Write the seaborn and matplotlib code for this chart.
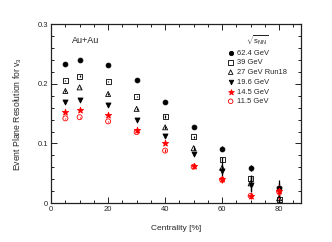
import matplotlib
matplotlib.use("Agg")
import matplotlib.pyplot as plt
import seaborn as sns
import pandas as pd
from matplotlib.ticker import MultipleLocator

# centrality bins [%]
centrality = [5, 10, 20, 30, 40, 50, 60, 70, 80]

# event plane resolution for v3 per energy
res_624 = [0.234, 0.240, 0.232, 0.207, 0.170, 0.128, 0.091, 0.059, 0.025]
res_39 = [0.206, 0.213, 0.204, 0.179, 0.145, 0.111, 0.073, 0.041, 0.006]
res_27 = [0.188, 0.194, 0.183, 0.158, 0.127, 0.092, 0.059, 0.033, 0.008]
res_196 = [0.170, 0.173, 0.164, 0.139, 0.113, 0.082, 0.053, 0.031, 0.024]
res_145 = [0.152, 0.156, 0.147, 0.123, 0.101, 0.062, 0.041, 0.012, 0.020]
res_115 = [0.142, 0.144, 0.137, 0.119, 0.088, 0.061, 0.039, 0.012, 0.019]

err_624 = [0.001, 0.001, 0.001, 0.001, 0.002, 0.002, 0.004, 0.005, 0.008]
err_39 = [0.001, 0.001, 0.001, 0.001, 0.002, 0.002, 0.004, 0.006, 0.009]
err_27 = [0.001, 0.001, 0.001, 0.002, 0.002, 0.003, 0.010, 0.012, 0.013]
err_196 = [0.001, 0.001, 0.001, 0.002, 0.002, 0.003, 0.011, 0.013, 0.015]
err_145 = [0.001, 0.001, 0.001, 0.002, 0.002, 0.003, 0.005, 0.004, 0.010]
err_115 = [0.001, 0.001, 0.001, 0.002, 0.002, 0.003, 0.006, 0.005, 0.012]

labels = ["62.4 GeV", "39 GeV", "27 GeV Run18", "19.6 GeV", "14.5 GeV", "11.5 GeV"]
values = [res_624, res_39, res_27, res_196, res_145, res_115]
errors = [err_624, err_39, err_27, err_196, err_145, err_115]

df = pd.concat(
    [pd.DataFrame({"cent": centrality, "res": v, "err": e, "energy": l})
     for l, v, e in zip(labels, values, errors)],
    ignore_index=True,
)

# marker, color, filled, size
styles = {
    "62.4 GeV": ("o", "black", True, 12),
    "39 GeV": ("s", "black", False, 13),
    "27 GeV Run18": ("^", "black", False, 13),
    "19.6 GeV": ("v", "black", True, 13),
    "14.5 GeV": ("*", "red", True, 22),
    "11.5 GeV": ("o", "red", False, 13),
}

sns.set_style("ticks")
plt.rcParams["font.family"] = ["Liberation Sans", "DejaVu Sans"]
plt.rcParams["mathtext.fontset"] = "custom"
plt.rcParams["mathtext.rm"] = "Liberation Sans"
plt.rcParams["mathtext.it"] = "Liberation Sans"

fig = plt.figure(figsize=(3.32, 2.42), dpi=100)
ax = fig.add_axes([0.154, 0.161, 0.752, 0.739])

for lab in labels:
    sub = df[df["energy"] == lab]
    m, c, filled, s = styles[lab]
    ax.errorbar(sub["cent"], sub["res"], yerr=sub["err"], fmt="none",
                ecolor=c, elinewidth=0.9, capsize=0, zorder=2)
    sns.scatterplot(data=sub, x="cent", y="res", ax=ax, marker=m, s=s,
                    facecolor=c if filled else "none", edgecolor=c,
                    linewidth=0.6, label=lab, zorder=3)

ax.set_xlim(0, 87.6)
ax.set_ylim(0, 0.3)
ax.xaxis.set_major_locator(MultipleLocator(20))
ax.xaxis.set_minor_locator(MultipleLocator(5))
ax.yaxis.set_major_locator(MultipleLocator(0.1))
ax.yaxis.set_minor_locator(MultipleLocator(0.02))
ax.set_yticks([0, 0.1, 0.2, 0.3])
ax.set_yticklabels(["0", "0.1", "0.2", "0.3"])
ax.tick_params(which="both", direction="in", top=True, right=True,
               labelsize=5.5, pad=2, width=0.7, color="#222222")
ax.tick_params(which="major", length=4)
ax.tick_params(which="minor", length=2)
for sp in ax.spines.values():
    sp.set_linewidth(0.9)
    sp.set_color("#222222")

ax.set_xlabel("Centrality [%]", fontsize=6, labelpad=9)
ax.set_ylabel("Event Plane Resolution for v$_3$", fontsize=6.2, labelpad=10)
ax.text(7.3, 0.273, "Au+Au", fontsize=6.5, va="center")

leg = ax.legend(title="$\\sqrt{s_{NN}}$", loc="upper left",
                bbox_to_anchor=(0.68, 0.98), frameon=False, fontsize=5.4,
                title_fontsize=5.5, handletextpad=0.3, labelspacing=0.33,
                borderpad=0.2, handlelength=1.2, markerscale=0.9)

fig.savefig("out.png", dpi=100)
